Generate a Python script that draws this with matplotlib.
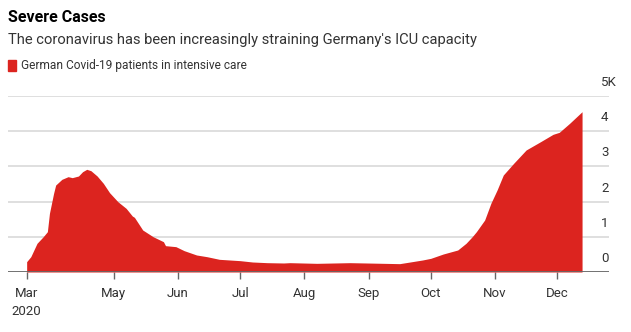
import matplotlib
matplotlib.use("Agg")
import matplotlib.pyplot as plt
import matplotlib.transforms as mtransforms
import pandas as pd

# ── Data: German Covid-19 patients in intensive care ────────
dates = [
    "2020-03-20", "2020-03-22", "2020-03-25", "2020-03-28", "2020-03-30",
    "2020-03-31", "2020-04-02", "2020-04-03", "2020-04-06", "2020-04-09",
    "2020-04-11", "2020-04-14", "2020-04-16", "2020-04-18", "2020-04-20",
    "2020-04-23", "2020-04-26", "2020-04-29", "2020-05-03", "2020-05-07",
    "2020-05-10", "2020-05-11", "2020-05-15", "2020-05-20", "2020-05-25",
    "2020-05-26", "2020-05-31", "2020-06-04", "2020-06-10", "2020-06-15",
    "2020-06-21", "2020-06-26", "2020-07-01", "2020-07-07", "2020-07-14",
    "2020-07-22", "2020-07-25", "2020-08-07", "2020-08-23", "2020-08-31",
    "2020-09-16", "2020-09-21", "2020-09-27", "2020-10-01", "2020-10-07",
    "2020-10-14", "2020-10-18", "2020-10-21", "2020-10-23", "2020-10-27",
    "2020-10-30", "2020-11-02", "2020-11-05", "2020-11-10", "2020-11-16",
    "2020-11-23", "2020-11-29", "2020-12-02", "2020-12-07", "2020-12-13",
]
patients = [
    293, 435, 815, 1003, 1145,
    1667, 2235, 2470, 2633, 2708,
    2680, 2727, 2850, 2917, 2878,
    2727, 2519, 2254, 1998, 1808,
    1590, 1553, 1193, 1003, 861,
    748, 720, 606, 483, 435,
    360, 341, 322, 284, 265,
    256, 265, 246, 265, 256,
    237, 284, 341, 388, 511,
    625, 815, 1003, 1145, 1477,
    1951, 2330, 2756, 3088, 3466,
    3703, 3911, 3968, 4224, 4554,
]

tick_dates = ["2020-03-20", "2020-05-01", "2020-06-01", "2020-07-01",
              "2020-08-01", "2020-09-01", "2020-10-01", "2020-11-01", "2020-12-01"]
tick_labels = ["Mar\n2020", "May", "Jun", "Jul", "Aug", "Sep", "Oct", "Nov", "Dec"]
y_ticks = [0, 1000, 2000, 3000, 4000, 5000]
y_labels = ["0", "1", "2", "3", "4", "5K"]

RED = "#dc241f"
TEXT = "#333333"

plt.rcParams["font.family"] = ["Roboto", "DejaVu Sans"]

x = pd.to_datetime(dates)
fig = plt.figure(figsize=(6.31, 3.32), dpi=100)
ax = fig.add_axes([8 / 631, 60 / 332, 601 / 631, 176 / 332])

ax.fill_between(x, 0, patients, color=RED, linewidth=0, zorder=2)

ax.set_xlim(pd.Timestamp("2020-03-11"), pd.Timestamp("2020-12-26"))
ax.set_ylim(0, 5000)

# gridlines, baseline and month ticks
for v in y_ticks[1:]:
    ax.axhline(v, color="#dcdcdc", lw=1.3, zorder=1)
ax.axhline(0, color="#666666", lw=1.3, zorder=3)
for s in ax.spines.values():
    s.set_visible(False)
ax.set_yticks([])
ax.set_xticks(pd.to_datetime(tick_dates))
ax.set_xticklabels(tick_labels, color=TEXT, fontsize=9.5, linespacing=1.5)
ax.tick_params(axis="x", length=5, width=1, color="#666666", pad=6)

# value labels sitting above gridlines on the right
trans = mtransforms.blended_transform_factory(fig.transFigure, ax.transData)
for v, lab in zip(y_ticks, y_labels):
    ax.text(601 / 631, v, lab, ha="left", va="bottom", fontsize=9.5, color=TEXT,
            transform=trans + mtransforms.ScaledTranslation(0, 7 / 100, fig.dpi_scale_trans))

# titles and legend
fig.text(8 / 631, 1 - 18 / 332, "Severe Cases", fontsize=11.5, fontweight="bold",
         color="black", va="center", ha="left")
fig.text(8 / 631, 1 - 40 / 332, "The coronavirus has been increasingly straining Germany's ICU capacity",
         fontsize=10.6, color=TEXT, va="center", ha="left")
fig.patches.append(plt.Rectangle((8 / 631, 1 - 70.5 / 332), 8 / 631, 10 / 332,
                                 transform=fig.transFigure, color=RED, figure=fig))
fig.text(21 / 631, 1 - 65.5 / 332, "German Covid-19 patients in intensive care",
         fontsize=8.6, color=TEXT, va="center", ha="left")

fig.savefig("out.png", dpi=100)
